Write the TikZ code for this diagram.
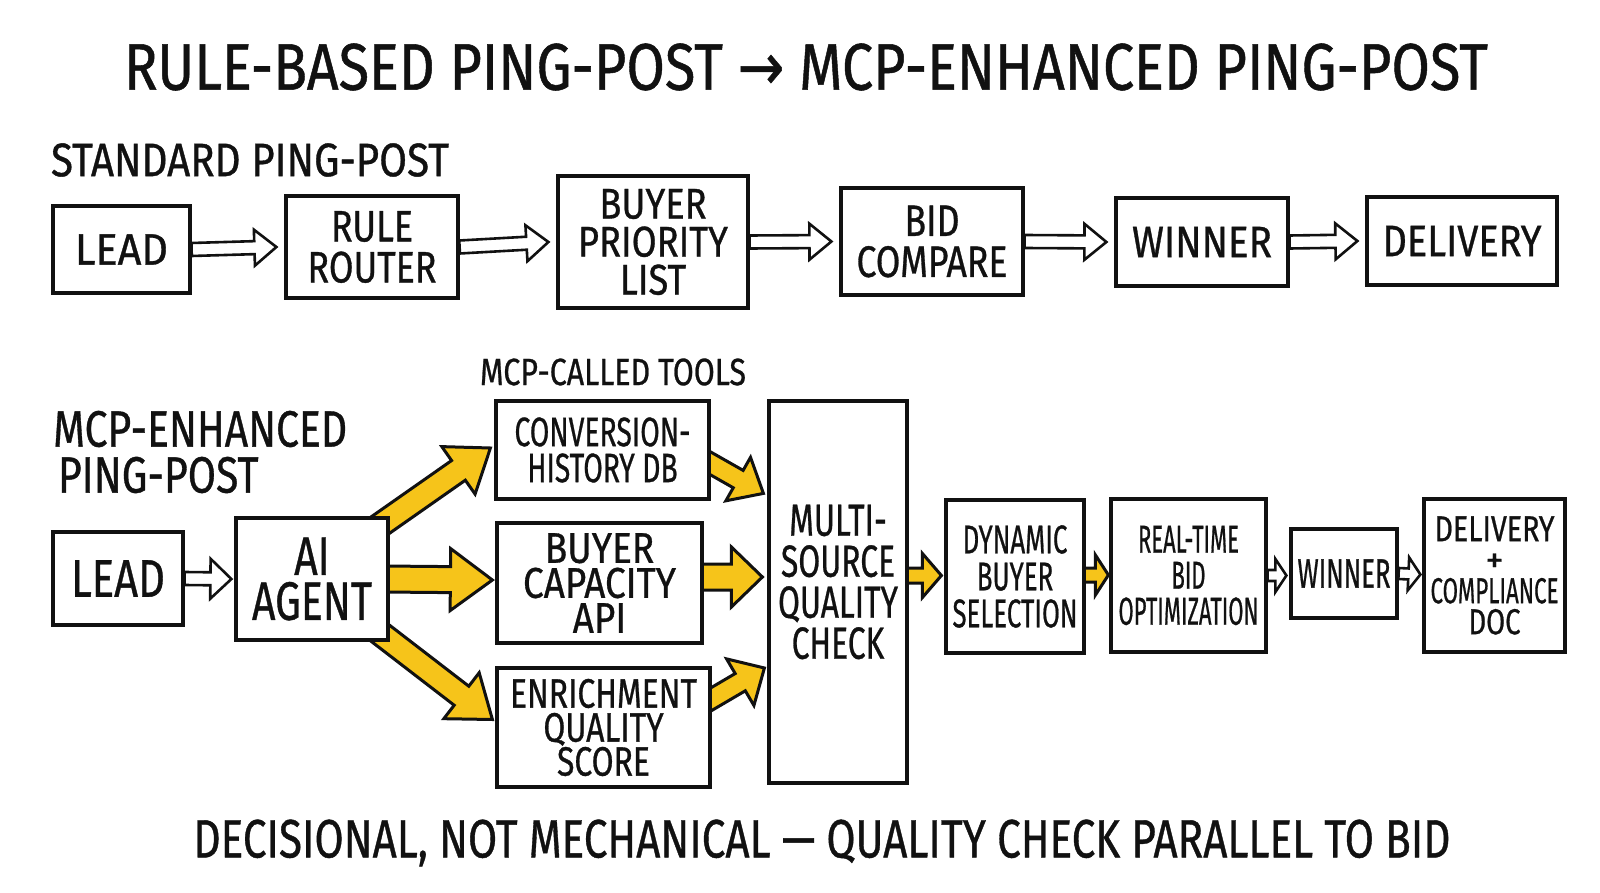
\documentclass[tikz,border=0pt]{standalone}
\usepackage{fontspec}
\usepackage{graphicx}
\setmainfont{Fira Sans}[FakeBold=0.8]
\newfontfamily\dv{DejaVu Sans}[FakeBold=0.8]
\usetikzlibrary{calc}
\pgfdeclarelayer{back}
\pgfdeclarelayer{arr}
\pgfsetlayers{back,arr,main}
\definecolor{gold}{RGB}{246,196,26}
\definecolor{ink}{RGB}{17,17,17}
\newsavebox\tbox
\newcommand\wline[2]{\sbox\tbox{#2}\scalebox{\fpeval{#1/(\the\wd\tbox)}}[1]{#2}}
% ratio of target width to natural width, stored as \xr<name>
\newcommand\setr[4]{\sbox\tbox{\fontsize{#2}{#2}\selectfont #4}%
  \expandafter\xdef\csname xr#1\endcsname{\fpeval{#3/(\the\wd\tbox)}}}
\tikzset{
  box/.style={draw=ink, line width=3.2pt, fill=white, inner sep=0pt},
  lbl/.style={inner sep=0pt, align=center, text=ink, transform shape},
  fx/.style={xscale=\csname xr#1\endcsname},
  fs/.style 2 args={font=\fontsize{#1}{#2}\selectfont},
  oarr/.style={fill=white, draw=ink, line width=2.6pt, line join=miter},
  yarr/.style={fill=gold, draw=ink, line width=3pt, line join=miter},
}
% fat arrow: style, from, to, half shaft, half head, head length
\newcommand\fatarrow[6]{%
  \coordinate (fa-a) at (#2);
  \coordinate (fa-b) at (#3);
  \coordinate (fa-h) at ($(fa-b)!#6!(fa-a)$);
  \path[#1] ($(fa-a)!#4!90:(fa-b)$) -- ($(fa-h)!#4!90:(fa-b)$)
    -- ($(fa-h)!#5!90:(fa-b)$) -- (fa-b) -- ($(fa-h)!#5!-90:(fa-b)$)
    -- ($(fa-h)!#4!-90:(fa-b)$) -- ($(fa-a)!#4!-90:(fa-b)$) -- cycle;
}
\begin{document}
\setr{title}{66}{1364}{RULE-BASED PING-POST {\dv →} MCP-ENHANCED PING-POST}%
\setr{std}{47}{398}{STANDARD PING-POST}%
\setr{mcp}{51}{294}{MCP-ENHANCED}%
\setr{tools}{38}{266}{MCP-CALLED TOOLS}%
\setr{cap}{54}{1257}{DECISIONAL, NOT MECHANICAL — QUALITY CHECK PARALLEL TO BID}%
\setr{lead}{44}{93}{LEAD}%
\setr{rule}{44}{129}{ROUTER}%
\setr{bpl}{43}{150}{PRIORITY}%
\setr{bid}{44}{151}{COMPARE}%
\setr{win}{44}{140}{WINNER}%
\setr{del}{44}{159}{DELIVERY}%
\setr{leadb}{53}{94}{LEAD}%
\setr{ai}{54}{120}{AGENT}%
\setr{conv}{41}{176}{CONVERSION-}%
\setr{capa}{43}{153}{CAPACITY}%
\setr{enr}{41}{187}{ENRICHMENT}%
\setr{chk}{45}{120}{QUALITY}%
\setr{dyn}{40}{125}{SELECTION}%
\setr{rt}{39}{140}{OPTIMIZATION}%
\setr{winb}{41}{93}{WINNER}%
\begin{tikzpicture}[x=1pt, y=-1pt]
\useasboundingbox (0,0) rectangle (1600,893);
\begin{pgfonlayer}{back}
  \fill[white] (0,0) rectangle (1600,893);
\end{pgfonlayer}

% ---------- titles ----------
\coordinate (c-title) at (806,67);
\node[lbl, fs={66}{66}, fx=title] (title) at (c-title) {RULE-BASED PING-POST {\dv →} MCP-ENHANCED PING-POST};
\coordinate (c-std) at (250,160);
\node[lbl, fs={47}{47}, fx=std] (stdlbl) at (c-std) {STANDARD PING-POST};
\coordinate (c-mcp) at (53,452);
\node[lbl, align=left, anchor=west, fs={51}{46}, fx=mcp] (mcplbl) at (c-mcp) {MCP-ENHANCED\\\hspace*{6pt}PING-POST};
\coordinate (c-tools) at (613,372);
\node[lbl, fs={38}{38}, fx=tools] (tools) at (c-tools) {MCP-CALLED TOOLS};
\coordinate (c-cap) at (822,843);
\node[lbl, fs={54}{54}, fx=cap] (caption) at (c-cap) {DECISIONAL, NOT MECHANICAL — QUALITY CHECK PARALLEL TO BID};

% ---------- top row ----------
\node[box, minimum width=137pt, minimum height=87pt] (lead) at (121.5,249.5) {};
\node[box, minimum width=172pt, minimum height=102pt] (rule) at (372,247) {};
\node[box, minimum width=190pt, minimum height=132pt] (bpl) at (653,242) {};
\node[box, minimum width=182pt, minimum height=107pt] (bid) at (932,241.5) {};
\node[box, minimum width=172pt, minimum height=88pt] (win) at (1202,242) {};
\node[box, minimum width=190pt, minimum height=88pt] (del) at (1462,241) {};

\node[lbl, fs={44}{44}, fx=lead] (leadt) at (lead.center) {LEAD};
\node[lbl, fs={44}{41}, fx=rule] (rulet) at (rule.center) {RULE\\ROUTER};
\node[lbl, fs={43}{38}, fx=bpl] (bplt) at (bpl.center) {BUYER\\PRIORITY\\LIST};
\node[lbl, fs={44}{41}, fx=bid] (bidt) at (bid.center) {BID\\COMPARE};
\node[lbl, fs={44}{44}, fx=win] (wint) at (win.center) {WINNER};
\node[lbl, fs={44}{44}, fx=del] (delt) at (del.center) {DELIVERY};

% ---------- bottom row ----------
\node[box, minimum width=130pt, minimum height=93pt] (lead2) at (118,578.5) {};
\node[box, minimum width=152pt, minimum height=122pt] (ai) at (312,579) {};
\node[box, minimum width=213pt, minimum height=98pt] (conv) at (602.5,450) {};
\node[box, minimum width=205pt, minimum height=120pt] (cap) at (599.5,583) {};
\node[box, minimum width=213pt, minimum height=119pt] (enr) at (603.5,727.5) {};
\node[box, minimum width=138pt, minimum height=382pt] (chk) at (838,592) {};
\node[box, minimum width=138pt, minimum height=153pt] (dyn) at (1015,576.5) {};
\node[box, minimum width=155pt, minimum height=153pt] (rt) at (1188.5,575.5) {};
\node[box, minimum width=106pt, minimum height=89pt] (win2) at (1344,573.5) {};
\node[box, minimum width=141pt, minimum height=153pt] (del2) at (1494.5,575.5) {};

\node[lbl, fs={53}{53}, fx=leadb] (lead2t) at (lead2.center) {LEAD};
\node[lbl, fs={54}{45}, fx=ai] (ait) at (ai.center) {AI\\AGENT};
\node[lbl, fs={41}{36}, fx=conv] (convt) at (conv.center) {CONVERSION-\\HISTORY DB};
\node[lbl, fs={43}{35}, fx=capa] (capt) at (cap.center) {BUYER\\CAPACITY\\API};
\node[lbl, fs={41}{34}, fx=enr] (enrt) at (enr.center) {ENRICHMENT\\QUALITY\\SCORE};
\node[lbl, fs={45}{41}, fx=chk] (chkt) at ($(chk.center)+(0,-10)$) {MULTI-\\SOURCE\\QUALITY\\CHECK};
\node[lbl, fs={40}{37}, fx=dyn] (dynt) at (dyn.center) {DYNAMIC\\BUYER\\SELECTION};
\node[lbl, fs={39}{36}, fx=rt] (rtt) at (rt.center) {REAL-TIME\\BID\\OPTIMIZATION};
\node[lbl, fs={41}{41}, fx=winb] (win2t) at (win2.center) {WINNER};
\node[lbl, fs={36}{31}] (del2t) at (del2.center) {\wline{120}{DELIVERY}\\+\\\wline{128}{COMPLIANCE}\\\wline{52}{DOC}};

% ---------- arrows ----------
\begin{pgfonlayer}{arr}
  \fatarrow{oarr}{lead.east}{$(rule.west)+(-8,0)$}{6.5pt}{18pt}{22pt}
  \fatarrow{oarr}{rule.east}{$(bpl.west)+(-8,0)$}{6.5pt}{18pt}{22pt}
  \fatarrow{oarr}{bpl.east}{$(bid.west)+(-8,0)$}{6.5pt}{18pt}{22pt}
  \fatarrow{oarr}{bid.east}{$(win.west)+(-8,0)$}{6.5pt}{18pt}{22pt}
  \fatarrow{oarr}{win.east}{$(del.west)+(-8,0)$}{6.5pt}{18pt}{22pt}

  \fatarrow{oarr}{lead2.east}{$(ai.west)+(-3,0)$}{6.5pt}{20pt}{21pt}
  \fatarrow{yarr}{$(ai.north east)+(-14,12)$}{$(conv.west)+(-4,-2)$}{12pt}{29pt}{39pt}
  \fatarrow{yarr}{$(ai.east)+(-6,0)$}{$(cap.west)+(-3,-3)$}{13pt}{31pt}{42pt}
  \fatarrow{yarr}{$(ai.south east)+(-14,-12)$}{$(enr.west)+(-3,-8)$}{12pt}{29pt}{39pt}

  \fatarrow{yarr}{$(conv.east)+(-6,10)$}{$(chk.north west)+(-4,94)$}{10pt}{25pt}{29pt}
  \fatarrow{yarr}{$(cap.east)+(-4,-6)$}{$(chk.west)+(-5,-15)$}{13pt}{30pt}{31pt}
  \fatarrow{yarr}{$(enr.east)+(-6,-25)$}{$(chk.west)+(-3,76)$}{10pt}{27pt}{28pt}

  \fatarrow{yarr}{$(chk.east)+(-2,-16.5)$}{$(dyn.west)+(-3,-1)$}{7.5pt}{22pt}{19pt}
  \fatarrow{yarr}{$(dyn.east)+(-2,-1.5)$}{$(rt.west)+(-1,-0.5)$}{7pt}{20pt}{13pt}
  \fatarrow{oarr}{rt.east}{$(win2.west)+(-3,2)$}{5.5pt}{16.5pt}{11pt}
  \fatarrow{oarr}{win2.east}{$(del2.west)+(-2,-1)$}{5.5pt}{16.5pt}{12pt}
\end{pgfonlayer}
\end{tikzpicture}
\end{document}
